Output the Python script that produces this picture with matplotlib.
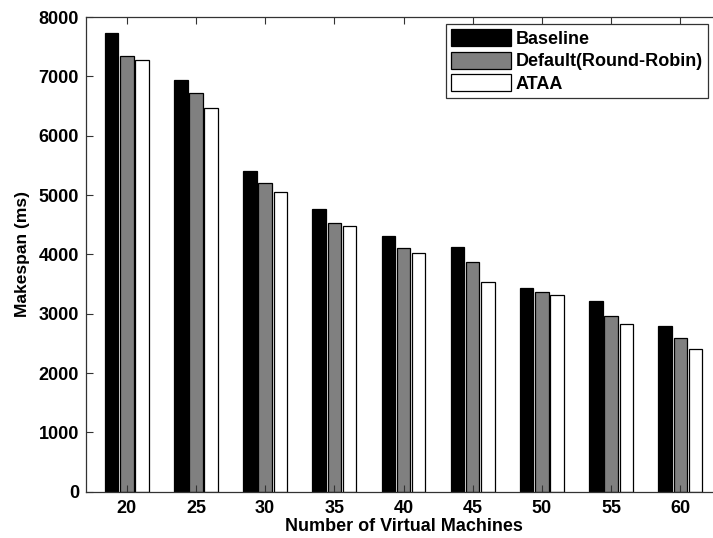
import matplotlib.pyplot as plt
import numpy as np

plt.rcParams["font.family"] = ["Liberation Sans", "DejaVu Sans"]
plt.rcParams["font.weight"] = "bold"

# --- Data ---
vms = [20, 25, 30, 35, 40, 45, 50, 55, 60]
baseline = [7730, 6930, 5400, 4760, 4310, 4120, 3430, 3210, 2800]
round_robin = [7340, 6720, 5200, 4530, 4100, 3870, 3370, 2960, 2585]
ataa = [7270, 6470, 5045, 4470, 4015, 3530, 3320, 2820, 2405]

series = [
    ("Baseline", baseline, "#000000"),
    ("Default(Round-Robin)", round_robin, "#808080"),
    ("ATAA", ataa, "#ffffff"),
]

# --- Plot ---
fig = plt.figure(figsize=(7.13, 5.38), dpi=100)
ax = fig.add_axes([0.1206, 0.0861, 0.8917, 0.8823])

x = np.arange(1, len(vms) + 1)
offset = 0.22
width = 0.195
for i, (name, vals, color) in enumerate(series):
    ax.bar(x + (i - 1) * offset, vals, width, color=color,
           edgecolor="black", linewidth=0.9, label=name)

ax.set_xlim(0.41, 9.6)
ax.set_ylim(0, 8000)
ax.set_xticks(x)
ax.set_xticklabels([str(v) for v in vms])
ax.set_yticks(np.arange(0, 8001, 1000))

# MATLAB-style inward ticks; the right edge is cropped off in the original
ax.tick_params(axis="both", direction="in", length=5, width=0.8,
               labelsize=13, top=True, right=False, color="#333333")
ax.tick_params(axis="x", pad=6)
ax.tick_params(axis="y", pad=5)
for s in ax.spines.values():
    s.set_color("#333333")
    s.set_linewidth(0.9)
ax.spines["right"].set_visible(False)

ax.set_xlabel("Number of Virtual Machines", fontsize=13, fontweight="bold", labelpad=1)
ax.set_ylabel("Makespan (ms)", fontsize=12.5, fontweight="bold", labelpad=6)

leg = ax.legend(loc="upper right", bbox_to_anchor=(708 / 713, 1 - 24 / 538),
                bbox_transform=fig.transFigure, fontsize=13, frameon=True,
                fancybox=False, edgecolor="#333333", framealpha=1,
                handlelength=3.3, handleheight=1.05, handletextpad=0.25,
                labelspacing=0.22, borderpad=0.3, borderaxespad=0)
leg.get_frame().set_linewidth(0.9)

plt.savefig("out.png", dpi=100)
